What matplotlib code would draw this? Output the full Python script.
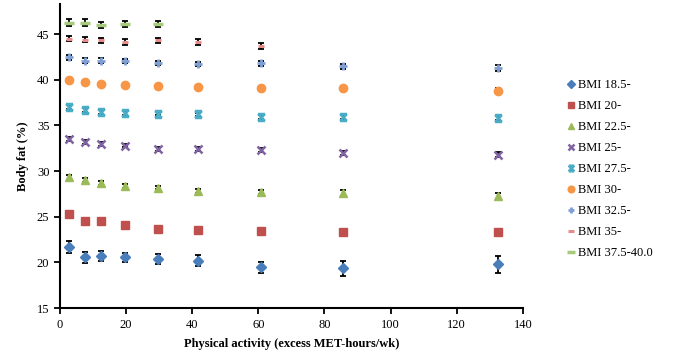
import matplotlib.pyplot as plt
from matplotlib.path import Path

plt.rcParams['font.family'] = ['Liberation Serif', 'DejaVu Serif']

# Datos
activity = [2.7, 7.6, 12.5, 19.6, 29.7, 41.8, 60.9, 85.6, 132.4]

labels = ['BMI 18.5-', 'BMI 20-', 'BMI 22.5-', 'BMI 25-', 'BMI 27.5-',
          'BMI 30-', 'BMI 32.5-', 'BMI 35-', 'BMI 37.5-40.0']

bmi_18 = [21.7, 20.55, 20.7, 20.55, 20.4, 20.2, 19.5, 19.35, 19.8]
bmi_20 = [25.3, 24.5, 24.5, 24.15, 23.7, 23.55, 23.4, 23.35, 23.35]
bmi_22 = [29.3, 29.0, 28.7, 28.4, 28.2, 27.85, 27.7, 27.6, 27.25]
bmi_25 = [33.5, 33.2, 33.0, 32.8, 32.45, 32.4, 32.3, 32.0, 31.8]
bmi_27 = [37.05, 36.7, 36.45, 36.35, 36.3, 36.2, 35.9, 35.9, 35.85]
bmi_30 = [40.0, 39.75, 39.5, 39.4, 39.3, 39.25, 39.1, 39.05, 38.8]
bmi_32 = [42.45, 42.1, 42.1, 42.05, 41.85, 41.7, 41.8, 41.45, 41.3]
bmi_35 = [44.5, 44.4, 44.3, 44.15, 44.3, 44.1, 43.7]
bmi_37 = [46.25, 46.25, 46.0, 46.1, 46.1]

err_18 = [0.7, 0.6, 0.55, 0.5, 0.55, 0.6, 0.6, 0.8, 0.9]
err_20 = [0.3, 0.25, 0.25, 0.25, 0.25, 0.25, 0.3, 0.35, 0.35]
err_22 = [0.25, 0.2, 0.2, 0.2, 0.2, 0.2, 0.25, 0.3, 0.3]
err_25 = [0.2, 0.2, 0.2, 0.2, 0.2, 0.2, 0.2, 0.25, 0.25]
err_27 = [0.25, 0.2, 0.2, 0.2, 0.2, 0.2, 0.25, 0.25, 0.25]
err_30 = [0.2, 0.2, 0.2, 0.2, 0.2, 0.2, 0.2, 0.25, 0.25]
err_32 = [0.25, 0.25, 0.25, 0.25, 0.25, 0.25, 0.25, 0.3, 0.3]
err_35 = [0.3, 0.3, 0.3, 0.3, 0.3, 0.35, 0.35]
err_37 = [0.35, 0.35, 0.35, 0.35, 0.35]

series = [bmi_18, bmi_20, bmi_22, bmi_25, bmi_27, bmi_30, bmi_32, bmi_35, bmi_37]
errors = [err_18, err_20, err_22, err_25, err_27, err_30, err_32, err_35, err_37]

# marcador tipo "estrella" de Excel (X con barras)
star = Path([(-1, 1), (1, 1), (-1, -1), (1, -1), (-1, 1), (1, -1), (-1, -1), (1, 1)],
            [Path.MOVETO, Path.LINETO, Path.MOVETO, Path.LINETO,
             Path.MOVETO, Path.LINETO, Path.MOVETO, Path.LINETO])

colores = ['#4A7EBB', '#C0504D', '#9BBB59', '#8064A2', '#4BACC6',
           '#F79646', '#7F9FD3', '#E68A8A', '#A6CB7A']
marcadores = ['D', 's', '^', 'x', star, 'o', '+', '_', '_']
tamanos = [5, 5.2, 5.5, 5.5, 5, 6, 5.5, 5, 7]
grosores = [1, 1, 1, 1.8, 1.8, 1, 2, 2.2, 2.5]

fig = plt.figure(figsize=(6.8, 3.53), dpi=100)
ax = fig.add_axes([0.088, 0.127, 0.681, 0.862])

for y, e, c, m, s, lw, lab in zip(series, errors, colores, marcadores,
                                  tamanos, grosores, labels):
    x = activity[:len(y)]
    ax.errorbar(x, y, yerr=e, fmt='none', ecolor='black', elinewidth=1.3,
                capsize=2.2, capthick=1.3, zorder=2)
    ax.plot(x, y, linestyle='none', marker=m, color=c, markersize=s,
            markeredgewidth=lw, label=lab, zorder=3)

ax.set_xlim(0, 140)
ax.set_ylim(15, 48.3)
ax.set_xticks(range(0, 141, 20))
ax.set_yticks(range(15, 46, 5))
ax.tick_params(labelsize=9, direction='out', length=4, width=1.3, colors='black')
for lado in ['top', 'right']:
    ax.spines[lado].set_visible(False)
for lado in ['left', 'bottom']:
    ax.spines[lado].set_linewidth(1.5)

ax.set_xlabel('Physical activity (excess MET-hours/wk)', fontsize=9,
              fontweight='bold', labelpad=5)
ax.set_ylabel('Body fat (%)', fontsize=9, fontweight='bold', labelpad=6)

ax.legend(loc='upper left', bbox_to_anchor=(0.825, 0.79), bbox_transform=fig.transFigure,
          frameon=False, fontsize=9, handlelength=0.8, handletextpad=0.15,
          labelspacing=0.72, borderaxespad=0, numpoints=1, markerscale=0.8)

fig.savefig('out.png', dpi=100)
